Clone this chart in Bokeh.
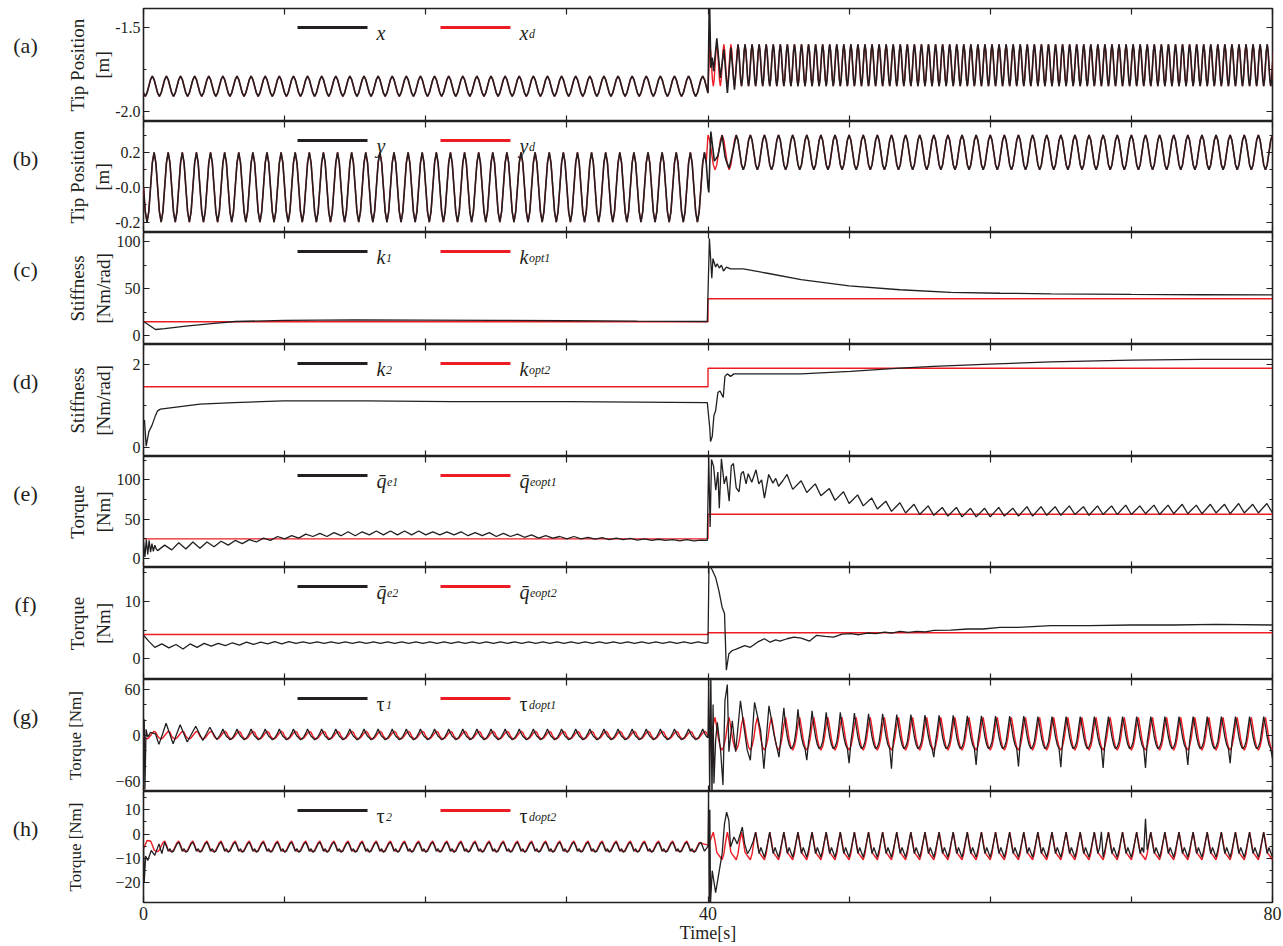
import numpy as np
from bokeh.plotting import figure
from bokeh.models import Range1d, FixedTicker, LinearAxis, Label, BoxAnnotation
from bokeh.layouts import column, row
from bokeh.embed import file_html
from bokeh.resources import INLINE

BLACK = "#231f20"
RED = "#ed1c24"
SERIF = "Liberation Serif"

# ------------------------------------------------------------------
# Data
# ------------------------------------------------------------------
T_TICKS = [0, 10, 20, 30, 40, 50, 60, 70, 80]
T_TICK_LABELS = {0: "0", 40: "40", 80: "80"}

# (a) tip position x [m]; one cycle of the 1 Hz part (0.125 s steps) and of the 2 Hz part (0.0625 s steps)
XD_CYCLE_1HZ = [-1.89, -1.91, -1.89, -1.85, -1.81, -1.79, -1.81, -1.85]
XD_CYCLE_2HZ = [-1.60, -1.64, -1.725, -1.81, -1.85, -1.81, -1.725, -1.64]
XD_STEP_T = [40.0]
XD_STEP_V = [-1.89]
X_TRANS_T = [40.0, 40.1, 40.2, 40.3, 40.4, 40.625, 40.875, 41.125, 41.375, 41.625, 41.875]
X_TRANS_V = [-1.89, -1.30, -1.74, -1.68, -1.76, -1.565, -1.80, -1.63, -1.89, -1.62, -1.87]

# (b) tip position y [m]
YD_CYCLE_1 = [0.0, -0.14, -0.2, -0.14, 0.0, 0.14, 0.2, 0.14]
YD_CYCLE_2 = [0.3, 0.27, 0.2, 0.13, 0.1, 0.13, 0.2, 0.27]
Y_END_T = [80.0]
Y_END_V = [0.3]
Y_TRANS_T = [40.0, 40.06, 40.2, 40.45, 40.7, 41.0, 41.2, 41.3, 41.5, 41.75]
Y_TRANS_V = [0.0, -0.03, 0.32, 0.15, 0.18, 0.30, 0.18, 0.15, 0.11, 0.2]

# (c) stiffness k1 [Nm/rad]
K_OPT_T = [0, 40, 40, 80]
K_OPT1 = [14.7, 14.7, 39.3, 39.3]
K1_T = [0, 0.3, 0.85, 1.5, 3, 5, 6.5, 10, 15, 20, 25, 30, 35, 39.95, 40.1, 40.27, 40.35,
        40.54, 40.65, 40.8, 40.95, 41.1, 41.3, 41.6, 42.5, 44.2, 46.6, 50.0, 53.6, 57.2,
        60.7, 64.3, 70, 75, 80]
K1_V = [15, 12, 6.5, 7.5, 10, 13, 15, 16.3, 16.8, 16.5, 16.2, 15.8, 15.3, 15, 103.5, 61, 82,
        73, 76.5, 72, 75, 68.7, 73, 71, 71, 66.4, 59.6, 52.9, 48.8, 46.1,
        45.1, 44.4, 43.8, 43.5, 43.3]

# (d) stiffness k2 [Nm/rad]
K_OPT2 = [1.46, 1.46, 1.906, 1.906]
K2_T = [0, 0.07, 0.19, 0.38, 0.6, 0.85, 1.0, 1.2, 4.0, 6.4, 9.9, 15.8, 21.8, 30, 35, 39.95,
        40.13, 40.18, 40.3, 40.42, 40.54, 40.7, 40.85, 41.08, 41.2, 41.37, 41.6, 41.84, 44.2,
        46.6, 50.1, 53.6, 56, 59.5, 64.3, 70, 75, 80]
K2_V = [0.65, 0.65, 0.03, 0.38, 0.53, 0.77, 0.88, 0.92, 1.04, 1.08, 1.12, 1.12, 1.10, 1.10, 1.09, 1.08,
        0.45, 0.14, 0.26, 0.77, 0.88, 1.32, 1.36, 1.20, 1.71, 1.77, 1.71, 1.77, 1.77,
        1.77, 1.83, 1.91, 1.95, 2.0, 2.06, 2.10, 2.12, 2.12]

# (e) torque q_e1 [Nm]
Q_EOPT1 = [25, 25, 56.4, 56.4]
E1_NOISE_T = [0, 0.1, 0.2, 0.3, 0.4, 0.5, 0.6, 0.7, 0.8, 0.9]
E1_NOISE_V = [22, 2, 24, 5, 23, 8, 19, 9, 17, 12]
E1_WIGGLE_T0 = 1.0   # extrema every 0.5 s from here
E1_WIGGLE = [10, 17, 11, 20, 12, 21, 13, 21, 15, 22,
             17, 23, 19, 24, 21, 26, 23, 28, 25, 29,
             26, 31, 28, 32, 28, 33, 29, 34, 29, 34,
             30, 35, 30, 35, 30, 35, 30, 35, 30, 34,
             30, 34, 30, 34, 29, 33, 29, 33, 28, 32,
             28, 31, 27, 30, 26, 29, 26, 28, 25, 28,
             25, 27, 24.5, 26.5, 24, 26, 24, 25.5, 23.5, 25,
             23, 24.5, 23, 24, 22.5, 24, 22.5, 23.5]
E1_TRANS_T = [39.95, 40.05, 40.15, 40.25, 40.4, 40.55, 40.7, 40.8, 40.95, 41.15, 41.3, 41.5,
              41.65, 41.8, 42.0, 42.2, 42.35, 42.5, 42.7, 42.85, 43.1, 43.4, 43.6, 43.8, 44.0,
              44.3, 44.6, 44.8, 45.0, 45.3]
E1_TRANS_V = [23, 129, 40, 126, 117, 87, 110, 64, 127, 95, 105, 73,
              118, 121, 90, 85, 108, 111, 95, 108, 97, 113, 95, 100, 77,
              107, 96, 102, 92, 99]
E1_PEAK_T0 = 45.6    # one peak per second from here
E1_PEAKS = [107, 99, 95, 89, 85, 81, 77, 73, 71, 69, 67, 65, 65, 64, 64, 65, 64, 66, 66, 66,
            67, 66, 67, 67, 68, 67, 68, 68, 69, 68, 69, 69, 70, 69, 70]
E1_TROUGH_T0 = 46.0  # one trough per second from here
E1_TROUGHS = [88, 84, 80, 74, 70, 67, 63, 60, 58, 56, 55, 54, 53, 53, 53, 54, 54, 54, 55, 55,
              56, 55, 56, 56, 56, 57, 56, 57, 57, 57, 58, 57, 58, 58, 58]

# (f) torque q_e2 [Nm]
Q_EOPT2 = [4.24, 4.24, 4.54, 4.54]
F_EARLY_T = [0, 0.4, 0.8, 1.3, 1.8, 2.3, 2.8, 3.3, 3.8, 4.3, 4.8, 5.3, 5.8, 6.3, 6.8, 7.3, 7.8,
             8.3, 8.8, 9.3, 9.8, 10.3, 10.8, 11.3, 11.8]
F_EARLY_V = [4.1, 3.0, 2.0, 2.6, 1.9, 2.5, 1.7, 2.6, 2.0, 2.7, 2.2, 2.7, 2.3, 2.8, 2.4, 2.9, 2.5,
             2.9, 2.6, 3.0, 2.6, 3.0, 2.7, 2.95, 2.7]
F_FLAT_CYCLE = [2.95, 2.7]
F_TRANS_T = [40.0, 40.07, 40.3, 40.54, 40.77, 41.0, 41.17, 41.3, 41.48, 41.72, 42.0, 42.3, 42.6,
             43.0, 43.5, 44.0, 44.4, 44.8, 45.1, 45.6, 46.1, 46.6, 47.2, 47.7, 48.3, 48.9, 49.5,
             50.1, 50.7, 51.3, 51.9, 52.5, 53.0, 53.6, 54.2, 54.8, 55.4, 56.0, 57.2, 58.4, 59.5,
             60.7, 62.0, 64.3, 67, 70, 73, 76, 80]
F_TRANS_V = [2.8, 16.5, 15.5, 14.2, 11.9, 9.0, 7.9, -2.0, 0.9, 1.45, 1.7, 2.0, 2.3,
             2.0, 2.9, 3.5, 2.9, 3.3, 3.1, 3.5, 3.8, 3.6, 3.1, 4.1, 3.9, 3.8, 4.3,
             4.4, 4.2, 4.5, 4.4, 4.65, 4.5, 4.8, 4.6, 4.8, 4.7, 4.95, 5.0, 5.2, 5.2,
             5.5, 5.5, 5.8, 5.8, 5.9, 5.9, 6.0, 5.9]

# (g) torque tau1 [Nm]; cycles in 0.125 s steps
G_RED_CYCLE_1 = [-1, -3.5, -4.3, -3, 0, 3, 5.5, 4]
G_RED_TRANS_T = [40.0, 40.125, 40.25]
G_RED_TRANS_V = [-1, 2, 6]
G_RED_CYCLE_2 = [14, 23.5, 10, -5, -15, -19, -14, -3]
G_BLK_EARLY_T = [0, 0.05, 0.1, 0.18, 0.3, 0.5, 0.85, 1.09, 1.35, 1.6, 2.1, 2.35, 2.6, 3.1, 3.4,
                 3.7, 4.2, 4.45, 4.7, 5.2, 5.4]
G_BLK_EARLY_V = [0, 21, -70, 8, -2, 4.2, 2.2, -11.5, 2, 15.8, -10.7, 2, 14, -8.5, 2,
                 12, -6.4, 2, 10.7, -5.5, 0]
G_BLK_CYCLE_1 = [3, 8.5, 3, -1, -3, -5.5, -4, -1]
G_BLK_TRANS_T = [39.5, 39.625, 39.75, 39.875, 40.0, 40.05, 40.12, 40.2, 40.28, 40.36,
                 40.42, 40.54, 40.66, 40.9, 41.06, 41.2, 41.37, 41.48, 41.72, 41.96,
                 42.3, 42.55, 42.78, 43.0, 43.3, 43.73, 43.96, 44.32, 44.67, 45.03]
G_BLK_TRANS_V = [3, 8.5, 3, -1, -3, 80, -80, 80, -80, 40,
                 -62, -6.4, 17, -21, -64, 45, 66, -21, 19, -21,
                 45, 10.7, -19, -32, 43, 6.4, -43, 38.5, 2, -28]
G_BLK_PEAKS = [36, 34, 32, 30, 30, 29, 28, 28, 27, 27, 26.5, 26, 26, 25.5, 25.5, 25, 25, 25,
               24.5, 24.5] + [24.5] * 15
G_BLK_REST = [12, -2, -12, -17, -15, -8, 8]
G_SPIKE_T = [47, 50, 53, 56, 59, 62, 65, 68, 71, 74, 77, 80]
G_SPIKE_V = [-32, -36, -43, -28, -38, -40, -41, -42, -42, -38, -36, -30]

# (h) torque tau2 [Nm]
H_RED_EARLY_T = [0, 0.25]
H_RED_EARLY_V = [-6, -2.6]
H_RED_CYCLE_1 = [-2.8, -4.5, -6.5, -7, -7.2, -6.5, -5, -3.5]
H_RED_TRANS_T = [40.0, 40.2]
H_RED_TRANS_V = [-4.5, -2]
H_RED_CYCLE_2 = [0.8, -3, -7.5, -8.5, -9.5, -10.5, -8, -3]
H_BLK_EARLY_T = [0, 0.05, 0.15, 0.3, 0.55, 0.8, 1.1, 1.3]
H_BLK_EARLY_V = [-5, -20, -9, -10.8, -6.7, -8.7, -4, -8]
H_BLK_CYCLE_1 = [-3.3, -5, -7, -6, -7.4, -7, -5.5, -4]
H_BLK_TRANS_T = [39.5, 39.75, 40.0, 40.04, 40.08, 40.13, 40.18, 40.3, 40.54, 40.77,
                 41.0, 41.17, 41.32, 41.48, 41.6, 41.84, 42.07, 42.43, 42.6, 42.8, 43.0, 43.2]
H_BLK_TRANS_V = [-3.3, -7, -5, 17.5, -28, 10, -28, -15, -24, -16,
                 -8, 4.3, 9, 5.6, -5.3, -1.2, -4, 2.9, -4, -8, -6, -3]
H_BLK_CYCLE_2 = [0.8, -4, -8, -5.5, -7.5, -9.5, -6.5, -3]
H_SPIKE_T = [67.875, 71.0]
H_SPIKE_V = [1.0, 6.3]


# ------------------------------------------------------------------
# Series assembly (repeat read cycles, join read segments)
# ------------------------------------------------------------------
def tiled(t0, dt, cycle, n):
    vals = list(cycle) * n
    return [t0 + i * dt for i in range(len(vals))], vals


def stepped(t0, dt, vals):
    return [t0 + i * dt for i in range(len(vals))], list(vals)


def joined(*parts):
    ts, vs = [], []
    for pt, pv in parts:
        ts.extend(pt)
        vs.extend(pv)
    return ts, vs


def with_overrides(series, times, vals):
    ts, vs = series
    vs = list(vs)
    arr = np.asarray(ts)
    for tt, vv in zip(times, vals):
        vs[int(np.argmin(np.abs(arr - tt)))] = vv
    return ts, vs


def cycles_with_peaks(t0, dt, peaks, rest):
    vals = []
    for pk in peaks:
        vals.append(pk)
        vals.extend(rest)
    return stepped(t0, dt, vals)


def interleave(a, b):
    pts = sorted(zip(list(a[0]) + list(b[0]), list(a[1]) + list(b[1])))
    return [q[0] for q in pts], [q[1] for q in pts]


S_XD = joined(tiled(0, 0.125, XD_CYCLE_1HZ, 40), (XD_STEP_T, XD_STEP_V),
              tiled(40.125, 0.0625, XD_CYCLE_2HZ, 80))
S_X = joined(tiled(0, 0.125, XD_CYCLE_1HZ, 40), (X_TRANS_T, X_TRANS_V),
             tiled(42.125, 0.0625, XD_CYCLE_2HZ, 76))
S_YD = joined(tiled(0, 0.125, YD_CYCLE_1, 40), tiled(40.0, 0.125, YD_CYCLE_2, 40), (Y_END_T, Y_END_V))
S_Y = joined(tiled(0, 0.125, YD_CYCLE_1, 40), (Y_TRANS_T, Y_TRANS_V),
             tiled(42.0, 0.125, YD_CYCLE_2, 38), (Y_END_T, Y_END_V))
S_E1 = joined((E1_NOISE_T, E1_NOISE_V), stepped(E1_WIGGLE_T0, 0.5, E1_WIGGLE),
              (E1_TRANS_T, E1_TRANS_V),
              interleave(stepped(E1_PEAK_T0, 1.0, E1_PEAKS), stepped(E1_TROUGH_T0, 1.0, E1_TROUGHS)))
S_E2 = joined((F_EARLY_T, F_EARLY_V), tiled(12.3, 0.5, F_FLAT_CYCLE, 28), (F_TRANS_T, F_TRANS_V))
S_G_RED = joined(tiled(0, 0.125, G_RED_CYCLE_1, 40), (G_RED_TRANS_T, G_RED_TRANS_V),
                 tiled(40.375, 0.125, G_RED_CYCLE_2, 40))
S_G_BLK = with_overrides(joined((G_BLK_EARLY_T, G_BLK_EARLY_V), tiled(5.5, 0.125, G_BLK_CYCLE_1, 34),
                                (G_BLK_TRANS_T, G_BLK_TRANS_V),
                                cycles_with_peaks(45.375, 0.125, G_BLK_PEAKS, G_BLK_REST)),
                         G_SPIKE_T, G_SPIKE_V)
S_H_RED = joined((H_RED_EARLY_T, H_RED_EARLY_V), tiled(0.5, 0.125, H_RED_CYCLE_1, 39),
                 (H_RED_TRANS_T, H_RED_TRANS_V), tiled(40.375, 0.125, H_RED_CYCLE_2, 40))
S_H_BLK = with_overrides(joined((H_BLK_EARLY_T, H_BLK_EARLY_V), tiled(1.5, 0.125, H_BLK_CYCLE_1, 38),
                                (H_BLK_TRANS_T, H_BLK_TRANS_V), tiled(43.375, 0.125, H_BLK_CYCLE_2, 37)),
                         H_SPIKE_T, H_SPIKE_V)

PANELS = [
    dict(tag="(a)", h=113, yr=(-2.06, -1.387), major=[-2.0, -1.5], minor=[-1.75],
         ovr={-2.0: "-2.0", -1.5: "-1.5"},
         ylabel="Tip Position\n[m]", ylsize="19px", ylstand=-1, lw=1.6,
         red=S_XD, black=S_X, leg=(("x", ""), ("x", "d")), upright=False),
    dict(tag="(b)", h=111, yr=(-0.26, 0.378), major=[-0.2, 0.0, 0.2], minor=[-0.1, 0.1, 0.3],
         ovr={-0.2: "-0.2", 0: "-0.0", 0.2: "0.2"}, ylabel="Tip Position\n[m]", ylsize="19px",
         ylstand=-1, lw=1.6,
         red=S_YD, black=S_Y, leg=(("y", ""), ("y", "d")), upright=False),
    dict(tag="(c)", h=112, yr=(-9.5, 109.8), major=[0, 50, 100], minor=[25, 75], ovr={},
         ylabel="Stiffness\n[Nm/rad]", ylsize="19px", ylstand=0, lw=1.3,
         red=(K_OPT_T, K_OPT1), black=(K1_T, K1_V), leg=(("k", "1"), ("k", "opt1")), upright=False),
    dict(tag="(d)", h=112, yr=(-0.22, 2.478), major=[0, 2], minor=[1], ovr={},
         ylabel="Stiffness\n[Nm/rad]", ylsize="19px", ylstand=16, lw=1.3,
         red=(K_OPT_T, K_OPT2), black=(K2_T, K2_V), leg=(("k", "2"), ("k", "opt2")), upright=False),
    dict(tag="(e)", h=111, yr=(-11.5, 129.9), major=[0, 50, 100], minor=[25, 75, 125], ovr={},
         ylabel="Torque\n[Nm]", ylsize="19px", ylstand=0, lw=1.3,
         red=(K_OPT_T, Q_EOPT1), black=S_E1, leg=(("q\u0304", "e1"), ("q\u0304", "eopt1")), upright=False),
    dict(tag="(f)", h=112, yr=(-3.61, 15.93), major=[0, 10], minor=[5, 15], ovr={},
         ylabel="Torque\n[Nm]", ylsize="19px", ylstand=8, lw=1.3,
         red=(K_OPT_T, Q_EOPT2), black=S_E2, leg=(("q\u0304", "e2"), ("q\u0304", "eopt2")), upright=False),
    dict(tag="(g)", h=112, yr=(-72.5, 72.5), major=[-60, 0, 60], minor=[-40, -20, 20, 40], ovr={},
         ylabel="Torque [Nm]", ylsize="17px", ylstand=27, lw=1.3,
         red=S_G_RED, black=S_G_BLK, leg=(("\u03c4", "1"), ("\u03c4", "dopt1")), upright=True),
    dict(tag="(h)", h=111, yr=(-28.06, 17.5), major=[-20, -10, 0, 10], minor=[-15, -5, 5, 15], ovr={},
         ylabel="Torque [Nm]", ylsize="17px", ylstand=27, lw=1.3,
         red=S_H_RED, black=S_H_BLK, leg=(("\u03c4", "2"), ("\u03c4", "dopt2")), upright=True),
]

# ------------------------------------------------------------------
# Layout
# ------------------------------------------------------------------
FRAME_W = 1129
TAG_W = 48
LEFT = 95
TOP_PAD = 8
X_RANGE = Range1d(0, 80)
MAIN_W = {"x": 9, "y": 9, "k": 9, "q\u0304": 10, "\u03c4": 9}
LEG_Y = 19


def style_ticks(ax):
    ax.axis_line_color = None
    ax.major_tick_in = 6
    ax.major_tick_out = 0
    ax.minor_tick_in = 3
    ax.minor_tick_out = 0
    ax.major_tick_line_color = BLACK
    ax.minor_tick_line_color = BLACK
    ax.major_tick_line_width = 1.2
    ax.minor_tick_line_width = 1.0


def hide_labels(ax, ticks):
    ax.major_label_overrides = {t: "" for t in ticks}
    ax.major_label_text_font_size = "0px"
    ax.major_label_standoff = 0


def make_tag(spec, top_pad, bottom_pad):
    h = spec["h"]
    t = figure(frame_width=TAG_W, frame_height=h, x_range=Range1d(0, TAG_W), y_range=Range1d(0, h),
               output_backend="svg", toolbar_location=None, tools="",
               x_axis_location=None, y_axis_location=None,
               min_border_left=0, min_border_right=0, min_border_top=top_pad,
               min_border_bottom=bottom_pad)
    t.grid.visible = False
    t.outline_line_color = None
    t.background_fill_color = "white"
    t.border_fill_color = "white"
    t.add_layout(Label(x=25, y=h - 37, text=spec["tag"], text_align="center",
                       text_baseline="middle", text_font=SERIF, text_font_size="22px",
                       text_color=BLACK))
    return t


def make_panel(spec, is_first, is_last):
    y0, y1 = spec["yr"]
    h = spec["h"]
    p = figure(frame_width=FRAME_W, frame_height=h, x_range=X_RANGE, y_range=Range1d(y0, y1),
               output_backend="svg", toolbar_location=None, tools="",
               x_axis_location=None, y_axis_location=None,
               min_border_left=LEFT, min_border_right=10,
               min_border_top=TOP_PAD if is_first else 0, min_border_bottom=0)
    p.grid.visible = False
    p.outline_line_color = BLACK
    p.outline_line_width = 1.6
    p.background_fill_color = "white"
    p.border_fill_color = "white"

    def fx(px):
        return 80.0 * px / FRAME_W

    def fy(py):
        return y1 - (y1 - y0) * py / h

    # y axes
    left = LinearAxis(ticker=FixedTicker(ticks=spec["major"], minor_ticks=spec["minor"]))
    style_ticks(left)
    left.major_label_text_font = SERIF
    left.major_label_text_font_size = "16px"
    left.major_label_text_color = BLACK
    left.major_label_standoff = 3
    if spec["ovr"]:
        left.major_label_overrides = spec["ovr"]
    left.axis_label = spec["ylabel"]
    left.axis_label_text_font = SERIF
    left.axis_label_text_font_size = spec["ylsize"]
    left.axis_label_text_font_style = "normal"
    left.axis_label_text_color = BLACK
    left.axis_label_standoff = spec["ylstand"]
    p.add_layout(left, "left")

    right = LinearAxis(ticker=FixedTicker(ticks=spec["major"], minor_ticks=spec["minor"]))
    style_ticks(right)
    hide_labels(right, spec["major"])
    p.add_layout(right, "right")

    # x axes
    top = LinearAxis(ticker=FixedTicker(ticks=T_TICKS))
    style_ticks(top)
    hide_labels(top, T_TICKS)
    p.add_layout(top, "above")

    bottom = LinearAxis(ticker=FixedTicker(ticks=T_TICKS))
    style_ticks(bottom)
    if is_last:
        bottom.major_label_overrides = {t: T_TICK_LABELS.get(t, "") for t in T_TICKS}
        bottom.major_label_text_font = SERIF
        bottom.major_label_text_font_size = "18px"
        bottom.major_label_text_color = BLACK
        bottom.major_label_standoff = 4
        bottom.axis_label = "Time[s]"
        bottom.axis_label_text_font = SERIF
        bottom.axis_label_text_font_size = "18px"
        bottom.axis_label_text_font_style = "normal"
        bottom.axis_label_text_color = BLACK
        bottom.axis_label_standoff = 0
    else:
        hide_labels(bottom, T_TICKS)
    p.add_layout(bottom, "below")

    # data
    rt, rv = spec["red"]
    bt, bv = spec["black"]
    p.line(rt, rv, line_color=RED, line_width=1.4)
    p.line(bt, bv, line_color=BLACK, line_width=spec["lw"])

    # legend
    for (main, sub), color, px0 in zip(spec["leg"], (BLACK, RED), (154, 297)):
        p.add_layout(BoxAnnotation(left=fx(px0), right=fx(px0 + 70), top=fy(LEG_Y - 1.5),
                                   bottom=fy(LEG_Y + 1.5), fill_color=color, fill_alpha=1.0,
                                   line_alpha=0))
        style = "normal" if spec["upright"] else "italic"
        p.add_layout(Label(x=fx(px0 + 79), y=fy(LEG_Y + 5), text=main, text_font=SERIF,
                           text_font_size="20px", text_font_style=style, text_color=BLACK,
                           text_baseline="alphabetic", text_align="left"))
        if sub:
            p.add_layout(Label(x=fx(px0 + 79 + MAIN_W[main] + 0.5), y=fy(LEG_Y + 6), text=sub,
                               text_font=SERIF, text_font_size="12px", text_font_style="italic",
                               text_color=BLACK, text_baseline="alphabetic", text_align="left"))
    return p


rows = []
n = len(PANELS)
for i, s in enumerate(PANELS):
    main = make_panel(s, i == 0, i == n - 1)
    tag = make_tag(s, TOP_PAD if i == 0 else 0, 0)
    rows.append(row(tag, main, spacing=0))
layout = column(*rows, spacing=0)

open("out.html", "w").write(file_html(layout, INLINE, "Tip position, stiffness and torque"))
